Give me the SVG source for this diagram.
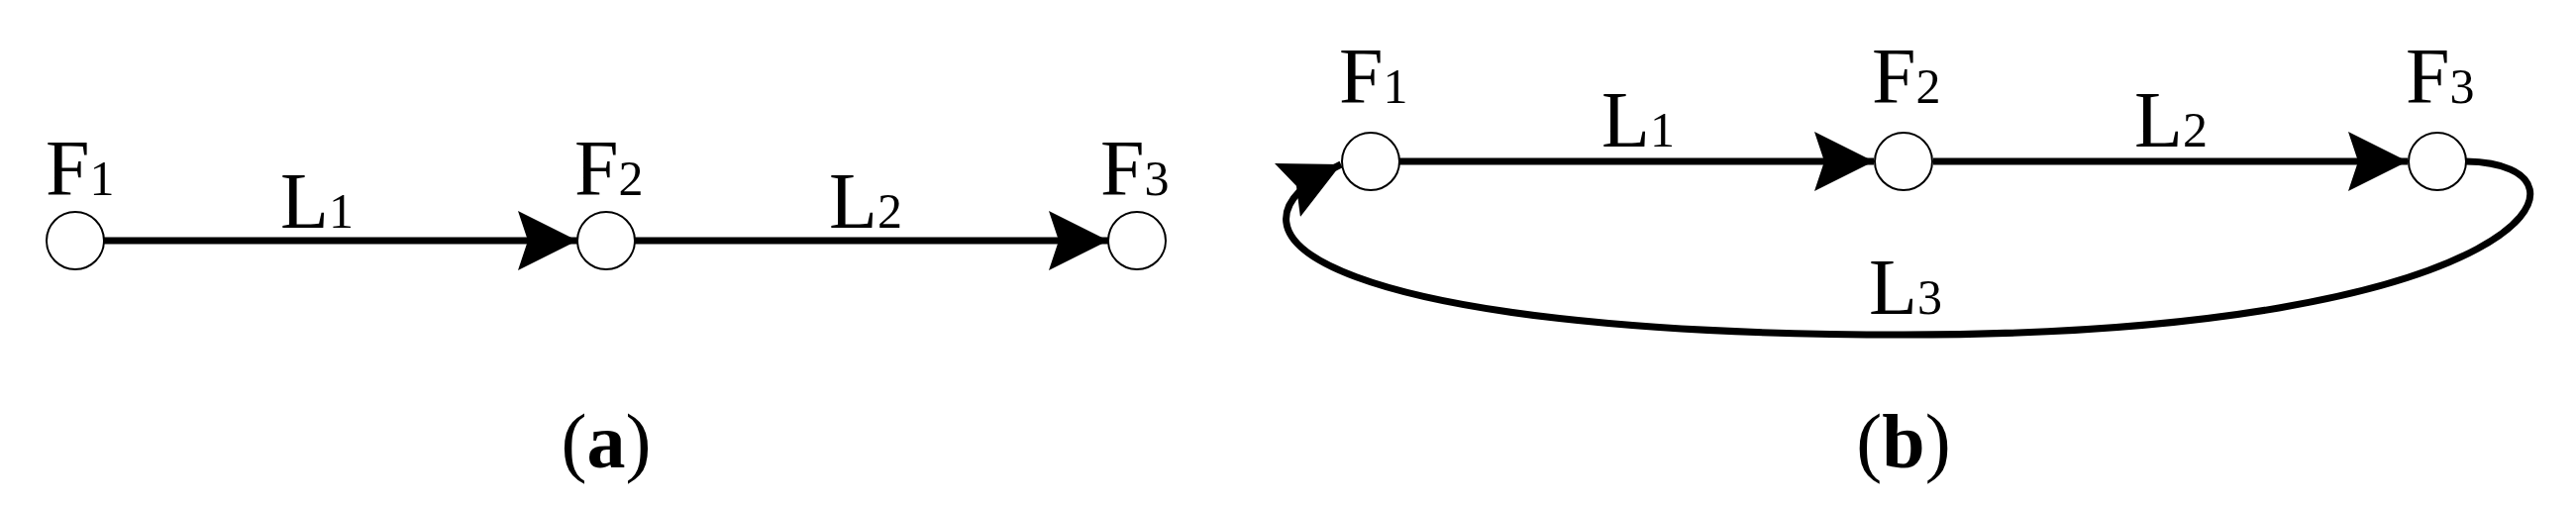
<svg xmlns="http://www.w3.org/2000/svg" width="2601" height="511" viewBox="0 0 2601 511">
<style>
.n{fill:#fff;stroke:#000;stroke-width:2}
.e{fill:none;stroke:#000;stroke-width:7}
text{font-family:"Liberation Serif",serif;font-size:80px;fill:#000}
.s{font-size:50px}
.cap{font-size:78px}
</style>
<defs>
<marker id="ah" markerUnits="userSpaceOnUse" markerWidth="62" markerHeight="60" refX="60" refY="30" orient="auto">
<path d="M0,0 L60,30 L0,60 L10,30 Z" fill="#000"/>
</marker>
</defs>
<g id="connectors">
<line class="e" x1="105" y1="243" x2="583" y2="243" marker-end="url(#ah)"/>
<line class="e" x1="641" y1="243" x2="1119" y2="243" marker-end="url(#ah)"/>
<line class="e" x1="1413" y1="163" x2="1892" y2="163" marker-end="url(#ah)"/>
<line class="e" x1="1952" y1="163" x2="2431" y2="163" marker-end="url(#ah)"/>
<path class="e" d="M2490,163 C2640,165 2560,338 1922,338 C1360,338 1200,240 1354,166" marker-end="url(#ah)"/>
</g>
<g id="a-F1"><ellipse class="n" cx="76" cy="243" rx="29" ry="29"/><text x="46" y="197">F<tspan class="s">1</tspan></text></g>
<g id="a-F2"><ellipse class="n" cx="612" cy="243" rx="29" ry="29"/><text x="580" y="197">F<tspan class="s">2</tspan></text></g>
<g id="a-F3"><ellipse class="n" cx="1148" cy="243" rx="29" ry="29"/><text x="1111" y="197">F<tspan class="s">3</tspan></text></g>
<text x="283" y="230">L<tspan class="s">1</tspan></text>
<text x="837" y="230">L<tspan class="s">2</tspan></text>
<g id="b-F1"><ellipse class="n" cx="1384" cy="163" rx="29" ry="29"/><text x="1352" y="104">F<tspan class="s">1</tspan></text></g>
<g id="b-F2"><ellipse class="n" cx="1922" cy="163" rx="29" ry="29"/><text x="1890" y="104">F<tspan class="s">2</tspan></text></g>
<g id="b-F3"><ellipse class="n" cx="2461" cy="163" rx="29" ry="29"/><text x="2429" y="104">F<tspan class="s">3</tspan></text></g>
<text x="1617" y="148">L<tspan class="s">1</tspan></text>
<text x="2155" y="148">L<tspan class="s">2</tspan></text>
<text x="1887" y="317">L<tspan class="s">3</tspan></text>
<text class="cap" x="612" y="472" text-anchor="middle">(<tspan font-weight="bold">a</tspan>)</text>
<text class="cap" x="1922" y="472" text-anchor="middle">(<tspan font-weight="bold">b</tspan>)</text>
</svg>
